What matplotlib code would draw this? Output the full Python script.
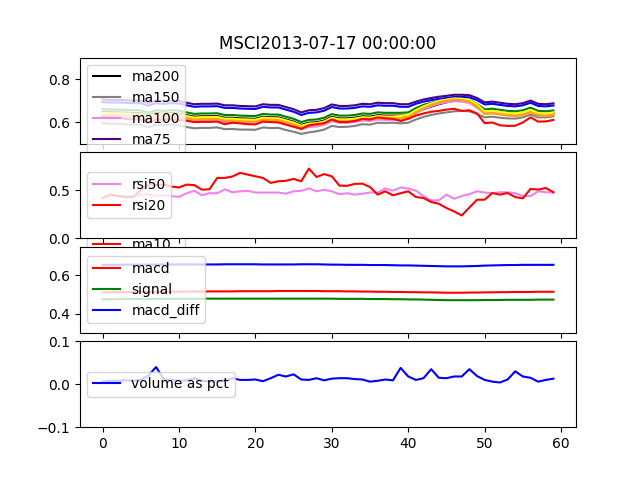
import matplotlib
matplotlib.use('Agg')
import matplotlib.pyplot as plt
import numpy as np

#================== DATA =====================
title = 'MSCI2013-07-17 00:00:00'
days = np.arange(60)

ma200 = [0.647, 0.645, 0.645, 0.644, 0.642, 0.642, 0.630, 0.642, 0.639, 0.642,
         0.640, 0.632, 0.625, 0.627, 0.627, 0.628, 0.620, 0.620, 0.617, 0.616,
         0.615, 0.625, 0.622, 0.622, 0.612, 0.602, 0.587, 0.597, 0.599, 0.607,
         0.624, 0.617, 0.617, 0.620, 0.627, 0.625, 0.632, 0.630, 0.630, 0.630,
         0.631, 0.647, 0.660, 0.672, 0.683, 0.692, 0.699, 0.699, 0.695, 0.674,
         0.647, 0.650, 0.645, 0.640, 0.638, 0.643, 0.655, 0.640, 0.638, 0.642]
ma150 = [0.595, 0.592, 0.592, 0.590, 0.588, 0.588, 0.575, 0.588, 0.585, 0.588,
         0.586, 0.577, 0.571, 0.573, 0.573, 0.575, 0.567, 0.568, 0.565, 0.565,
         0.564, 0.575, 0.572, 0.573, 0.563, 0.555, 0.545, 0.552, 0.557, 0.565,
         0.582, 0.577, 0.578, 0.582, 0.590, 0.588, 0.597, 0.596, 0.597, 0.594,
         0.597, 0.612, 0.624, 0.633, 0.640, 0.645, 0.650, 0.652, 0.650, 0.638,
         0.622, 0.625, 0.620, 0.617, 0.616, 0.622, 0.635, 0.622, 0.622, 0.627]
ma100 = [0.627, 0.625, 0.625, 0.624, 0.622, 0.622, 0.610, 0.622, 0.619, 0.622,
         0.620, 0.612, 0.605, 0.607, 0.607, 0.608, 0.600, 0.600, 0.597, 0.596,
         0.595, 0.605, 0.602, 0.602, 0.592, 0.582, 0.567, 0.577, 0.579, 0.587,
         0.604, 0.597, 0.597, 0.600, 0.607, 0.605, 0.612, 0.610, 0.610, 0.613,
         0.618, 0.640, 0.660, 0.674, 0.685, 0.692, 0.697, 0.695, 0.689, 0.667,
         0.642, 0.645, 0.640, 0.635, 0.633, 0.638, 0.650, 0.635, 0.633, 0.637]
ma75 = [0.705, 0.703, 0.703, 0.702, 0.700, 0.700, 0.688, 0.700, 0.697, 0.700,
        0.698, 0.690, 0.683, 0.685, 0.685, 0.686, 0.678, 0.678, 0.675, 0.674,
        0.673, 0.683, 0.680, 0.680, 0.670, 0.660, 0.645, 0.655, 0.657, 0.665,
        0.682, 0.675, 0.675, 0.678, 0.685, 0.683, 0.690, 0.688, 0.688, 0.683,
        0.683, 0.695, 0.705, 0.712, 0.718, 0.722, 0.727, 0.727, 0.725, 0.712,
        0.692, 0.695, 0.690, 0.685, 0.683, 0.688, 0.700, 0.685, 0.683, 0.687]
ma50 = [0.693, 0.691, 0.691, 0.690, 0.688, 0.688, 0.676, 0.688, 0.685, 0.688,
        0.686, 0.678, 0.671, 0.673, 0.673, 0.674, 0.666, 0.666, 0.663, 0.662,
        0.661, 0.671, 0.668, 0.668, 0.658, 0.648, 0.633, 0.643, 0.645, 0.653,
        0.670, 0.663, 0.663, 0.666, 0.673, 0.671, 0.678, 0.676, 0.676, 0.671,
        0.671, 0.685, 0.695, 0.702, 0.708, 0.712, 0.717, 0.717, 0.715, 0.702,
        0.682, 0.685, 0.680, 0.675, 0.673, 0.678, 0.690, 0.675, 0.673, 0.677]
ma30 = [0.660, 0.658, 0.658, 0.657, 0.655, 0.655, 0.643, 0.655, 0.652, 0.655,
        0.653, 0.645, 0.638, 0.640, 0.640, 0.641, 0.633, 0.633, 0.630, 0.629,
        0.628, 0.638, 0.635, 0.635, 0.625, 0.615, 0.600, 0.610, 0.612, 0.620,
        0.637, 0.630, 0.630, 0.633, 0.640, 0.638, 0.645, 0.643, 0.643, 0.643,
        0.645, 0.665, 0.680, 0.690, 0.698, 0.702, 0.707, 0.707, 0.703, 0.684,
        0.659, 0.662, 0.657, 0.652, 0.650, 0.655, 0.667, 0.652, 0.650, 0.654]
ma20 = [0.643, 0.641, 0.641, 0.640, 0.638, 0.638, 0.626, 0.638, 0.635, 0.638,
        0.636, 0.628, 0.621, 0.623, 0.623, 0.624, 0.616, 0.616, 0.613, 0.612,
        0.611, 0.621, 0.618, 0.618, 0.608, 0.598, 0.583, 0.593, 0.595, 0.603,
        0.620, 0.613, 0.613, 0.616, 0.623, 0.621, 0.628, 0.626, 0.626, 0.628,
        0.633, 0.655, 0.673, 0.687, 0.698, 0.705, 0.710, 0.709, 0.703, 0.682,
        0.649, 0.652, 0.647, 0.642, 0.640, 0.645, 0.657, 0.642, 0.640, 0.644]
ma15 = [0.634, 0.632, 0.632, 0.631, 0.629, 0.629, 0.617, 0.629, 0.626, 0.629,
        0.627, 0.619, 0.612, 0.614, 0.614, 0.615, 0.607, 0.607, 0.604, 0.603,
        0.602, 0.612, 0.609, 0.609, 0.599, 0.589, 0.574, 0.584, 0.586, 0.594,
        0.611, 0.604, 0.604, 0.607, 0.614, 0.612, 0.619, 0.617, 0.617, 0.618,
        0.623, 0.645, 0.665, 0.680, 0.692, 0.700, 0.705, 0.703, 0.695, 0.670,
        0.637, 0.640, 0.635, 0.630, 0.628, 0.633, 0.645, 0.630, 0.628, 0.632]
ma10 = [0.625, 0.622, 0.620, 0.615, 0.612, 0.612, 0.595, 0.612, 0.610, 0.612,
        0.610, 0.606, 0.600, 0.601, 0.601, 0.602, 0.590, 0.597, 0.594, 0.590,
        0.589, 0.602, 0.600, 0.598, 0.588, 0.578, 0.568, 0.585, 0.590, 0.595,
        0.612, 0.600, 0.600, 0.605, 0.615, 0.612, 0.622, 0.617, 0.615, 0.605,
        0.615, 0.630, 0.640, 0.648, 0.652, 0.658, 0.662, 0.652, 0.655, 0.640,
        0.595, 0.598, 0.585, 0.582, 0.583, 0.598, 0.622, 0.602, 0.603, 0.610]

rsi50 = [0.42, 0.455, 0.44, 0.44, 0.44, 0.45, 0.46, 0.44, 0.45, 0.44,
         0.432, 0.47, 0.495, 0.45, 0.47, 0.47, 0.51, 0.48, 0.49, 0.495,
         0.477, 0.477, 0.477, 0.477, 0.465, 0.49, 0.495, 0.52, 0.49, 0.505,
         0.49, 0.46, 0.47, 0.455, 0.465, 0.477, 0.477, 0.52, 0.497, 0.53,
         0.52, 0.497, 0.44, 0.395, 0.395, 0.455, 0.412, 0.44, 0.46, 0.49,
         0.477, 0.47, 0.48, 0.48, 0.47, 0.44, 0.44, 0.49, 0.48, 0.477]
rsi20 = [0.42, 0.455, 0.44, 0.43, 0.43, 0.50, 0.56, 0.555, 0.56, 0.54,
         0.53, 0.56, 0.555, 0.507, 0.512, 0.63, 0.63, 0.645, 0.683, 0.665,
         0.647, 0.63, 0.578, 0.595, 0.60, 0.62, 0.595, 0.728, 0.64, 0.67,
         0.647, 0.55, 0.547, 0.568, 0.57, 0.535, 0.455, 0.49, 0.448, 0.47,
         0.49, 0.43, 0.42, 0.378, 0.36, 0.315, 0.28, 0.237, 0.32, 0.402,
         0.402, 0.472, 0.455, 0.472, 0.43, 0.416, 0.515, 0.508, 0.525, 0.48]

macd = [0.511, 0.511, 0.512, 0.512, 0.512, 0.513, 0.513, 0.513, 0.514, 0.514,
        0.514, 0.515, 0.515, 0.515, 0.516, 0.516, 0.516, 0.516, 0.517, 0.517,
        0.517, 0.517, 0.517, 0.518, 0.518, 0.518, 0.518, 0.518, 0.518, 0.517,
        0.517, 0.517, 0.516, 0.516, 0.515, 0.515, 0.514, 0.514, 0.513, 0.513,
        0.512, 0.512, 0.511, 0.511, 0.510, 0.509, 0.509, 0.509, 0.510, 0.510,
        0.511, 0.511, 0.512, 0.512, 0.513, 0.513, 0.513, 0.514, 0.514, 0.514]
signal = [0.475, 0.475, 0.475, 0.476, 0.476, 0.476, 0.476, 0.477, 0.477, 0.477,
          0.477, 0.477, 0.477, 0.478, 0.478, 0.478, 0.478, 0.478, 0.478, 0.478,
          0.478, 0.478, 0.478, 0.478, 0.478, 0.478, 0.478, 0.478, 0.478, 0.478,
          0.478, 0.477, 0.477, 0.477, 0.477, 0.476, 0.476, 0.476, 0.475, 0.475,
          0.474, 0.474, 0.473, 0.472, 0.471, 0.470, 0.470, 0.470, 0.470, 0.470,
          0.471, 0.471, 0.471, 0.472, 0.472, 0.472, 0.472, 0.473, 0.473, 0.473]
macd_diff = [0.655, 0.655, 0.655, 0.656, 0.656, 0.656, 0.656, 0.656, 0.657, 0.657,
             0.657, 0.657, 0.657, 0.657, 0.657, 0.657, 0.658, 0.658, 0.658, 0.658,
             0.658, 0.657, 0.657, 0.657, 0.657, 0.657, 0.658, 0.658, 0.658, 0.657,
             0.656, 0.656, 0.655, 0.655, 0.655, 0.654, 0.654, 0.654, 0.653, 0.652,
             0.652, 0.651, 0.650, 0.649, 0.648, 0.647, 0.647, 0.647, 0.648, 0.649,
             0.651, 0.652, 0.653, 0.654, 0.654, 0.655, 0.655, 0.655, 0.655, 0.655]

volume_pct = [0.006, 0.008, 0.008, 0.009, 0.008, 0.010, 0.020, 0.040, 0.012, 0.010,
              0.008, 0.009, 0.014, 0.008, 0.006, 0.008, 0.008, 0.014, 0.010, 0.010,
              0.011, 0.007, 0.014, 0.022, 0.018, 0.023, 0.011, 0.010, 0.014, 0.009,
              0.013, 0.014, 0.014, 0.012, 0.011, 0.006, 0.008, 0.011, 0.009, 0.038,
              0.018, 0.010, 0.014, 0.035, 0.015, 0.014, 0.018, 0.018, 0.035, 0.019,
              0.010, 0.006, 0.004, 0.011, 0.030, 0.018, 0.015, 0.006, 0.010, 0.013]

ma_series = [('ma200', ma200, 'black'), ('ma150', ma150, 'gray'),
             ('ma100', ma100, 'violet'), ('ma75', ma75, 'indigo'),
             ('ma50', ma50, 'blue'), ('ma30', ma30, 'green'),
             ('ma20', ma20, 'yellow'), ('ma15', ma15, 'orange'),
             ('ma10', ma10, 'red')]
#================ END DATA ===================

fig, (ax_ma, ax_rsi, ax_macd, ax_vol) = plt.subplots(4, 1, sharex=True, figsize=(6.4, 4.8), dpi=100)
fig.subplots_adjust(hspace=0.1)

# --- moving averages ---
for name, vals, col in ma_series:
    ax_ma.plot(days, vals, color=col, label=name)
ax_ma.set_ylim(0.5, 0.9)
ax_ma.legend(loc='upper left')
ax_ma.set_title(title)

# --- rsi ---
ax_rsi.plot(days, rsi50, color='violet', label='rsi50')
ax_rsi.plot(days, rsi20, color='red', label='rsi20')
ax_rsi.set_ylim(0, 0.9)
ax_rsi.legend(loc='center left')

# --- macd ---
ax_macd.plot(days, macd, color='red', label='macd')
ax_macd.plot(days, signal, color='green', label='signal')
ax_macd.plot(days, macd_diff, color='blue', label='macd_diff')
ax_macd.set_ylim(0.3, 0.75)
ax_macd.legend(loc='center left')

# --- volume ---
ax_vol.plot(days, volume_pct, color='blue', label='volume as pct')
ax_vol.set_ylim(-0.1, 0.1)
ax_vol.legend(loc='center left')

plt.savefig('out.png')
